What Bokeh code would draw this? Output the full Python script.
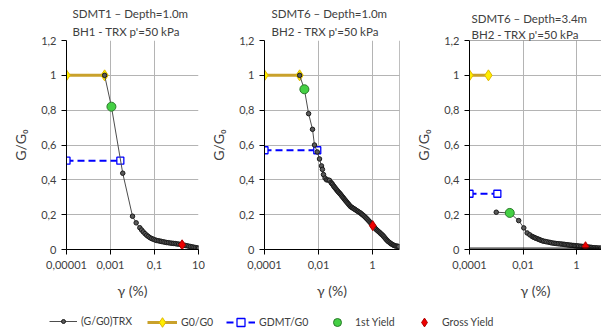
from bokeh.plotting import figure
from bokeh.models import (Range1d, FixedTicker, CustomJSTickFormatter, Title, Span,
                          Legend, LegendItem)
from bokeh.layouts import column, row
from bokeh.embed import file_html
from bokeh.resources import INLINE

FONT = "Lato"
TXT = "#404040"
GRID = "#b4b4b4"

# ---------------- data ----------------
Y_TICKS = [0, 0.2, 0.4, 0.6, 0.8, 1.0, 1.2]
X_TICKS_1 = [1e-5, 1e-3, 1e-1, 10]
X_TICKS_23 = [1e-4, 1e-2, 1]

# Panel 1 : SDMT1 - Depth=1.0m   (gamma %, G/G0)
p1_titles = ["SDMT1 \u2013 Depth=1.0m", "BH1 - TRX p'=50 kPa"]
p1_xrange = (1e-5, 10)
p1_trx = [(0.00054, 1.000), (0.0011, 0.820), (0.0036, 0.438), (0.0100, 0.191), (0.0147, 0.153),
          (0.0215, 0.125), (0.026, 0.112), (0.031, 0.101), (0.037, 0.091), (0.044, 0.082),
          (0.052, 0.075), (0.062, 0.068), (0.074, 0.063), (0.088, 0.059), (0.105, 0.055),
          (0.125, 0.052), (0.15, 0.050), (0.18, 0.048), (0.21, 0.046), (0.25, 0.044),
          (0.30, 0.042), (0.36, 0.040), (0.43, 0.039), (0.52, 0.037), (0.62, 0.036),
          (0.74, 0.035), (0.88, 0.034), (1.05, 0.032), (1.25, 0.031), (1.5, 0.029),
          (1.8, 0.027), (2.15, 0.025), (2.55, 0.023), (3.05, 0.021), (3.65, 0.019),
          (4.35, 0.017), (5.2, 0.015), (6.2, 0.013), (7.4, 0.011), (8.8, 0.009), (10.0, 0.008)]
p1_g0_gamma = [1e-5, 0.00054]
p1_g0 = [1.0, 1.0]
p1_gdmt_gamma = [1e-5, 0.0028]
p1_gdmt = [0.51, 0.51]
p1_y1_gamma = [0.0011]
p1_y1 = [0.82]
p1_gross_gamma = [1.8]
p1_gross = [0.027]

# Panel 2 : SDMT6 - Depth=1.0m
p2_titles = ["SDMT6 \u2013 Depth=1.0m", "BH2 - TRX p'=50 kPa"]
p2_xrange = (1e-4, 10)
p2_trx = [(0.0020, 1.000), (0.0030, 0.920), (0.0043, 0.780), (0.0060, 0.690), (0.0071, 0.600),
          (0.0090, 0.560), (0.0109, 0.520), (0.0129, 0.480), (0.0140, 0.460), (0.0153, 0.430),
          (0.0175, 0.410), (0.0198, 0.400), (0.0225, 0.399), (0.0255, 0.397), (0.029, 0.385),
          (0.031, 0.379), (0.033, 0.374), (0.036, 0.366), (0.038, 0.360), (0.041, 0.354),
          (0.044, 0.348), (0.047, 0.342), (0.051, 0.336), (0.054, 0.331), (0.058, 0.326),
          (0.062, 0.321), (0.066, 0.316), (0.071, 0.310), (0.076, 0.304), (0.082, 0.298),
          (0.088, 0.292), (0.094, 0.286), (0.100, 0.281), (0.107, 0.276), (0.115, 0.270),
          (0.124, 0.264), (0.133, 0.258), (0.143, 0.252), (0.153, 0.247), (0.166, 0.243),
          (0.180, 0.240), (0.195, 0.236), (0.21, 0.233), (0.23, 0.229), (0.25, 0.225),
          (0.275, 0.221), (0.30, 0.217), (0.33, 0.213), (0.36, 0.209), (0.395, 0.204),
          (0.43, 0.199), (0.475, 0.194), (0.52, 0.188), (0.57, 0.182), (0.62, 0.176),
          (0.68, 0.170), (0.74, 0.163), (0.81, 0.157), (0.88, 0.150), (0.95, 0.144),
          (1.02, 0.137), (1.10, 0.131), (1.20, 0.125), (1.30, 0.119), (1.40, 0.114),
          (1.52, 0.109), (1.65, 0.104), (1.80, 0.099), (1.95, 0.094), (2.10, 0.089),
          (2.30, 0.084), (2.50, 0.078), (2.70, 0.072), (2.95, 0.065), (3.20, 0.058),
          (3.50, 0.052), (3.80, 0.046), (4.20, 0.041), (4.60, 0.036), (5.00, 0.032),
          (5.50, 0.028), (6.00, 0.025), (6.60, 0.022), (7.30, 0.020), (8.00, 0.019),
          (8.70, 0.018), (9.40, 0.017)]
p2_g0_gamma = [1e-4, 0.0020]
p2_g0 = [1.0, 1.0]
p2_gdmt_gamma = [1e-4, 0.0090]
p2_gdmt = [0.57, 0.57]
p2_y1_gamma = [0.0030]
p2_y1 = [0.92]
p2_gross_gamma = [1.02]
p2_gross = [0.137]
p2_edge = 10

# Panel 3 : SDMT6 - Depth=3.4m
p3_titles = ["SDMT6 \u2013 Depth=3.4m", "BH2 - TRX p'=50 kPa"]
p3_xrange = (1e-4, 8.6)
p3_trx = [(0.0010, 0.214), (0.0032, 0.210), (0.0069, 0.166), (0.0107, 0.124), (0.0143, 0.095),
          (0.0180, 0.084), (0.0220, 0.075), (0.0245, 0.071), (0.0275, 0.068), (0.030, 0.065),
          (0.0339, 0.062), (0.038, 0.059), (0.042, 0.056), (0.047, 0.053), (0.0523, 0.050),
          (0.059, 0.048), (0.068, 0.046), (0.078, 0.044), (0.0925, 0.042), (0.105, 0.040),
          (0.12, 0.038), (0.14, 0.0365), (0.16, 0.035), (0.185, 0.034), (0.21, 0.033),
          (0.245, 0.032), (0.28, 0.031), (0.32, 0.030), (0.36, 0.029), (0.40, 0.028),
          (0.45, 0.027), (0.51, 0.026), (0.58, 0.025), (0.66, 0.024), (0.75, 0.023),
          (0.85, 0.022), (0.95, 0.021), (1.07, 0.0205), (1.2, 0.020), (1.4, 0.019),
          (1.6, 0.018), (1.85, 0.017), (2.17, 0.016), (2.45, 0.015), (2.8, 0.014),
          (3.2, 0.013), (3.6, 0.012), (4.1, 0.011), (4.6, 0.010), (5.3, 0.0095),
          (6.0, 0.009), (7.0, 0.0085), (8.1, 0.008)]
p3_g0_gamma = [1e-4, 0.00051]
p3_g0 = [1.0, 1.0]
p3_gdmt_gamma = [1e-4, 0.0011]
p3_gdmt = [0.32, 0.32]
p3_y1_gamma = [0.0032]
p3_y1 = [0.21]
p3_gross_gamma = [2.17]
p3_gross = [0.016]
p3_base = 0.008

legend_labels = ["(G/G0)TRX", "G0/G0", "GDMT/G0", "1st Yield", "Gross Yield"]

# ---------------- styles ----------------
CURVE = dict(line_color="#4d4d4d", line_width=1)
CURVE_MK = dict(marker="circle", size=4.5, line_color="#1a1a1a", fill_color="#5a5a5a", line_width=1)
G0_LINE = dict(line_color="#c9a12b", line_width=3)
G0_MK = dict(marker="diamond", size=11, fill_color="#ffee00", line_color="#e0b800", line_width=1)
GD_LINE = dict(line_color="#0000ff", line_width=2, line_dash="7 4")
GD_MK = dict(marker="square", size=7, fill_color="white", line_color="#0000ff", line_width=1.3)
Y1_MK = dict(marker="circle", size=9, fill_color="#44d044", line_color="#2a7a2a", line_width=1)
GR_MK = dict(marker="diamond", size=10, fill_color="#ee0000", line_color="#b00000", line_width=1)

FRAME_H = 209
TOP = 40
BOTTOM = 58


def fmt():
    return CustomJSTickFormatter(code="return tick.toString().replace('.', ',');")


def make_panel(titles, xrange, xticks, left, fw, right, title_x, sub_standoff,
               trx, g0x, g0y, gdx, gdy, y1x, y1y, grx, gry):
    gamma = [a for a, _ in trx]
    gg = [b for _, b in trx]
    p = figure(frame_width=fw, frame_height=FRAME_H, x_axis_type="log",
               x_range=Range1d(*xrange), y_range=Range1d(0, 1.2), title=None,
               min_border_left=left, min_border_right=right,
               min_border_top=TOP, min_border_bottom=BOTTOM,
               output_backend="svg", toolbar_location=None)
    p.outline_line_color = None
    p.background_fill_color = "white"
    p.border_fill_color = "white"

    p.xaxis.ticker = FixedTicker(ticks=xticks)
    p.yaxis.ticker = FixedTicker(ticks=Y_TICKS)
    p.xgrid.ticker = FixedTicker(ticks=xticks)
    p.ygrid.ticker = FixedTicker(ticks=Y_TICKS)
    p.xaxis.formatter = fmt()
    p.yaxis.formatter = fmt()
    p.grid.grid_line_color = GRID
    p.grid.grid_line_width = 1
    for ax in (p.xaxis, p.yaxis):
        ax.axis_line_color = "black"
        ax.major_tick_line_color = "black"
        ax.major_tick_out = 5
        ax.major_tick_in = 0
        ax.minor_tick_line_color = None
        ax.major_label_text_font = FONT
        ax.major_label_text_font_size = "11px"
        ax.major_label_text_color = TXT
        ax.axis_label_text_font = FONT
        ax.axis_label_text_font_size = "14px"
        ax.axis_label_text_font_style = "normal"
        ax.axis_label_text_color = TXT
    p.xaxis.major_label_standoff = 6
    p.yaxis.major_label_standoff = 5
    p.xaxis.axis_label = "\u03b3 (%)"
    p.yaxis.axis_label = "G/G\u2080"
    p.xaxis.axis_label_standoff = 10
    p.yaxis.axis_label_standoff = 9

    # subtitle first (closest to the frame), then main title above it
    for t, so in ((titles[1], sub_standoff), (titles[0], 2)):
        p.add_layout(Title(text=t, align="left", offset=title_x, standoff=so,
                           text_font=FONT, text_font_size="11.5px",
                           text_font_style="normal", text_color=TXT), "above")

    p.line(g0x, g0y, **G0_LINE)
    p.scatter(g0x, g0y, **G0_MK)
    p.line(gdx, gdy, **GD_LINE)
    p.scatter(gdx, gdy, **GD_MK)
    p.line(gamma, gg, **CURVE)
    p.scatter(gamma, gg, **CURVE_MK)
    p.scatter(y1x, y1y, **Y1_MK)
    p.scatter(grx, gry, **GR_MK)
    return p


p1 = make_panel(p1_titles, p1_xrange, X_TICKS_1, 66, 132, 7, 6, 5,
                p1_trx, p1_g0_gamma, p1_g0, p1_gdmt_gamma, p1_gdmt,
                p1_y1_gamma, p1_y1, p1_gross_gamma, p1_gross)
p2 = make_panel(p2_titles, p2_xrange, X_TICKS_23, 59, 135, 8, 7, 5,
                p2_trx, p2_g0_gamma, p2_g0, p2_gdmt_gamma, p2_gdmt,
                p2_y1_gamma, p2_y1, p2_gross_gamma, p2_gross)
p2.add_layout(Span(location=p2_edge, dimension="height", line_color="#808080", line_width=1))
p3 = make_panel(p3_titles, p3_xrange, X_TICKS_23, 62, 132, 0, 2, 0,
                p3_trx, p3_g0_gamma, p3_g0, p3_gdmt_gamma, p3_gdmt,
                p3_y1_gamma, p3_y1, p3_gross_gamma, p3_gross)
p3.add_layout(Span(location=1.2, dimension="width", line_color="#595959", line_width=1))
p3.add_layout(Span(location=p3_base, dimension="width", line_color="black", line_width=1))

# ---------------- legend strip ----------------
LEG_H = 24
lp = figure(width=601, height=LEG_H, x_range=Range1d(0, 1), y_range=Range1d(0, 1),
            x_axis_location=None, y_axis_location=None, min_border=0, title=None,
            output_backend="svg", toolbar_location=None)
lp.grid.visible = False
lp.outline_line_color = None

nan = [float("nan")]
r_cl = lp.line(nan, nan, **CURVE)
r_cm = lp.scatter(nan, nan, **dict(CURVE_MK, size=4))
r_gl = lp.line(nan, nan, **G0_LINE)
r_gm = lp.scatter(nan, nan, **G0_MK)
r_dl = lp.line(nan, nan, **GD_LINE)
r_dm = lp.scatter(nan, nan, **GD_MK)
r_y1 = lp.scatter(nan, nan, **Y1_MK)
r_gr = lp.scatter(nan, nan, **GR_MK)

leg_specs = [
    (legend_labels[0], [r_cl, r_cm], 49, 28, 10),
    (legend_labels[1], [r_gl, r_gm], 147, 30, 24),
    (legend_labels[2], [r_dl, r_dm], 226, 29, 20),
    (legend_labels[3], [r_y1], 323, 28, 20),
    (legend_labels[4], [r_gr], 410, 28, 22),
]
CENTER = 9
for lab, rs, x, gw, gh in leg_specs:
    lg = Legend(items=[LegendItem(label=lab, renderers=rs)],
                location=(x, CENTER - gh / 2), orientation="horizontal",
                glyph_width=gw, glyph_height=gh, label_height=gh, label_standoff=4,
                padding=0, margin=0, spacing=0, border_line_color=None,
                background_fill_alpha=0, label_text_font=FONT,
                label_text_font_size="10.5px", label_text_color=TXT)
    lp.add_layout(lg)

layout = column(row(p1, p2, p3), lp)
open("out.html", "w").write(file_html(layout, INLINE))
